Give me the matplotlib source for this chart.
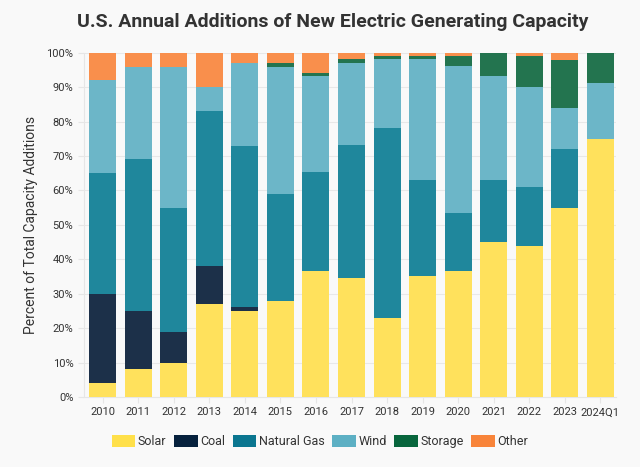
import matplotlib.pyplot as plt
import numpy as np

plt.rcParams['font.family'] = ['Roboto', 'DejaVu Sans']

years = ['2010', '2011', '2012', '2013', '2014', '2015', '2016', '2017',
         '2018', '2019', '2020', '2021', '2022', '2023', '2024Q1']

solar = [4, 8, 10, 27, 25, 28, 36.7, 34.6, 23, 35, 36.7, 45, 44, 55, 75]
coal = [26, 17, 9, 11, 1, 0, 0, 0, 0, 0, 0, 0, 0, 0, 0]
gas = [35, 44, 36, 45, 47, 31, 28.6, 38.6, 55, 28, 16.7, 18, 17, 17, 0]
wind = [27, 27, 41, 7, 24, 37, 27.9, 23.9, 20.1, 35.1, 42.7, 30.2, 29, 12, 16.2]
storage = [0, 0, 0, 0, 0, 1, 1, 1, 0.9, 0.9, 2.9, 6.8, 9, 14, 8.8]
other = [8, 4, 4, 10, 3, 3, 5.8, 1.9, 1, 1, 1, 0, 1, 2, 0]

names = ['Solar', 'Coal', 'Natural Gas', 'Wind', 'Storage', 'Other']
series = [solar, coal, gas, wind, storage, other]
colors = ['#ffe15c', '#1c3049', '#1f879c', '#6cb6c8', '#23744f', '#f98f4c']
legend_colors = ['#ffe04a', '#06213d', '#0b7690', '#5db0c4', '#08663d', '#f8843a']

bg = '#f9f9f9'
fig = plt.figure(figsize=(6.4, 4.67), dpi=100, facecolor=bg)
ax = fig.add_axes([0.131, 0.15, 0.832, 0.737], facecolor=bg)

x = np.arange(len(years))
bottom = np.zeros(len(years))
for name, vals, c in zip(names, series, colors):
    vals = np.array(vals, dtype=float)
    ax.bar(x, vals, bottom=bottom, width=0.76, color=c, label=name, zorder=3,
           linewidth=0)
    bottom += vals

ax.set_xlim(-0.53, 14.45)
ax.set_ylim(0, 100)
ax.set_yticks(np.arange(0, 101, 10))
ax.set_yticklabels([f'{v}%' for v in range(0, 101, 10)])
ax.set_xticks(x)
ax.set_xticklabels(years)
ax.tick_params(axis='both', labelsize=8, colors='#e6e6e6', labelcolor='#333333',
               length=4, width=0.8)
ax.grid(axis='y', color='#e8e8e8', linewidth=0.8, zorder=0)
for s in ['top', 'right']:
    ax.spines[s].set_visible(False)
ax.spines['left'].set_color('#e6e6e6')
ax.spines['bottom'].set_color('#e6e6e6')

ax.set_ylabel('Percent of Total Capacity Additions', fontsize=10, color='#333333',
              labelpad=6)
fig.text(0.52, 0.953, 'U.S. Annual Additions of New Electric Generating Capacity',
         ha='center', va='center', fontsize=14, fontweight='bold', color='#333333')

from matplotlib.patches import FancyBboxPatch
handles = [FancyBboxPatch((0, 0), 1, 1, boxstyle='round,pad=0,rounding_size=0.2',
                          facecolor=c, edgecolor='none') for c in legend_colors]
leg = fig.legend(handles, names, loc='center', bbox_to_anchor=(0.5, 0.055), ncol=6,
                 frameon=False, fontsize=9, handlelength=1.9, handleheight=1.1,
                 handletextpad=0.2, columnspacing=0.6, labelcolor='#333333')

plt.savefig('out.png', dpi=100, facecolor=bg)
